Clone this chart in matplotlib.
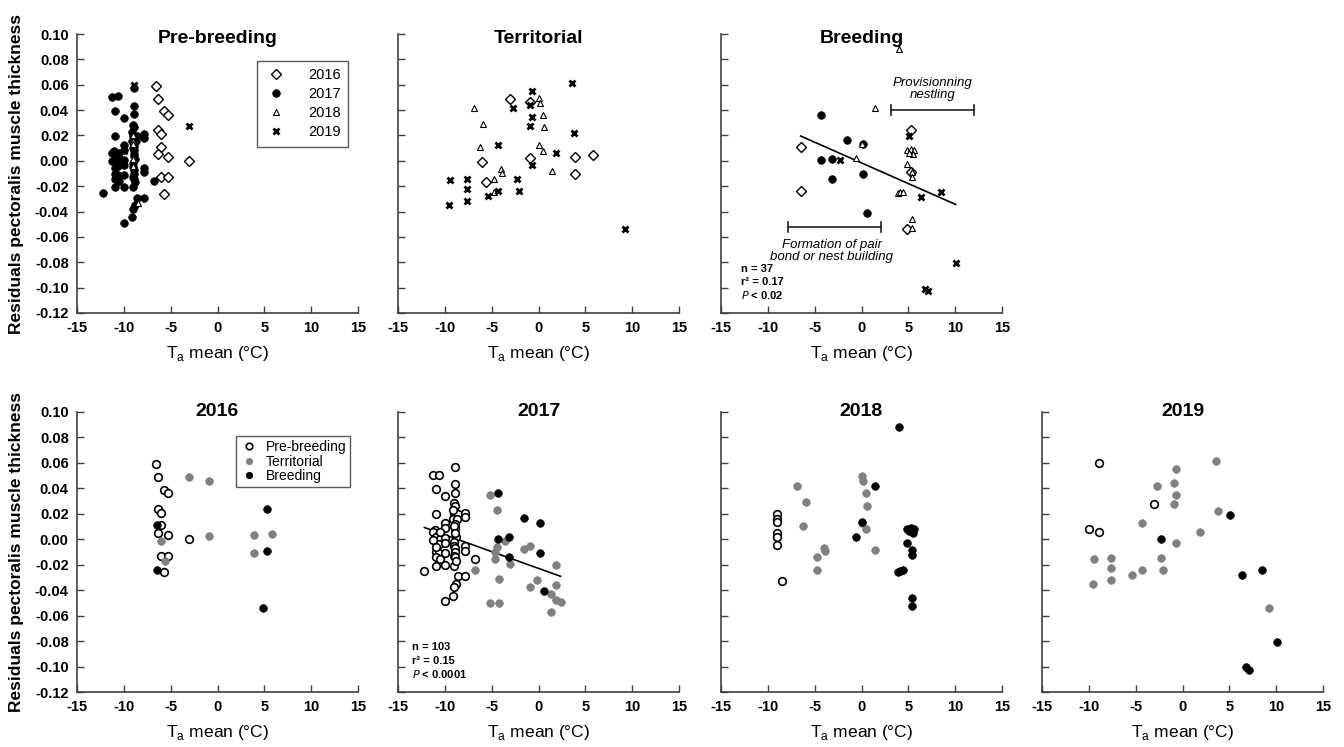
import numpy as np
import matplotlib
matplotlib.use("Agg")
import matplotlib.pyplot as plt

plt.rcParams["font.family"] = ["Liberation Sans", "DejaVu Sans"]
plt.rcParams["mathtext.fontset"] = "custom"
plt.rcParams["mathtext.rm"] = "Liberation Sans"
plt.rcParams["axes.unicode_minus"] = False

# --- mean air temperature (x) and residual muscle thickness (y), by year and phase ---
pre16_x = [-6.6, -6.3, -5.7, -5.3, -6.3, -6.0, -6.0, -6.35, -5.3, -3.0, -6.0, -5.3, -5.7]
pre16_y = [0.059, 0.049, 0.039, 0.036, 0.024, 0.021, 0.011, 0.005, 0.003, 0.000, -0.013, -0.013, -0.026]
ter16_x = [-3.0, -0.95, -0.95, 3.9, 5.85, 3.9, -6.0, -5.65]
ter16_y = [0.049, 0.046, 0.0025, 0.003, 0.0045, -0.0105, -0.0012, -0.017]
bre16_x = [-6.5, -6.5, 5.25, 5.25, 4.85]
bre16_y = [0.011, -0.024, 0.024, -0.009, -0.054]

pre17_x = [-8.87, -11.26, -10.65, -8.87, -10.90, -10.01, -8.87, -9.05, -8.87, -9.05,
           -8.62, -7.80, -7.80, -10.90, -9.16, -8.69, -10.01, -8.87, -10.01, -8.87,
           -11.01, -11.26, -10.65, -10.90, -10.47, -10.01, -8.76, -9.05, -10.65, -9.05,
           -8.87, -7.80, -7.80, -10.90, -10.58, -10.01, -8.87, -9.05, -10.90, -10.47,
           -8.87, -6.73, -10.90, -10.01, -9.05, -12.18, -8.62, -7.80, -8.76, -9.05,
           -10.01, -9.12, -9.05, -8.87, -10.47, -11.26, -10.90, -9.16, -8.76, -10.01]
pre17_y = [0.0571, 0.0503, 0.0508, 0.0433, 0.0393, 0.0341, 0.0367, 0.0284, 0.0263, 0.0197,
           0.0197, 0.0210, 0.0176, 0.0197, 0.0158, 0.0158, 0.0127, 0.0119, 0.0088, 0.0088,
           0.0075, 0.0059, 0.0041, 0.0014, 0.0001, 0.0007, 0.0014, -0.0020, -0.0038, -0.0051,
           -0.0072, -0.0056, -0.0090, -0.0103, -0.0109, -0.0109, -0.0103, -0.0129, -0.0142, -0.0156,
           -0.0142, -0.0156, -0.0208, -0.0203, -0.0208, -0.0250, -0.0292, -0.0292, -0.0352, -0.0378,
           -0.0488, -0.0443, 0.0105, 0.0050, 0.0059, -0.0005, -0.0060, 0.0230, -0.0170, -0.0030]
ter17_x = [-5.13, -4.42, -3.53, -4.42, -1.57, -0.93, -4.67, -4.67, -3.06, -6.8, -4.24,
           -0.14, -0.93, 1.82, 1.82, 1.35, 1.82, 2.35, -5.13, -4.24, 1.35]
ter17_y = [0.0346, 0.0231, -0.0012, -0.0064, -0.0077, -0.0051, -0.0103, -0.0156, -0.0195, -0.0242, -0.0312,
           -0.0317, -0.0378, -0.0203, -0.036, -0.0431, -0.0475, -0.0495, -0.0501, -0.0501, -0.0569]
bre17_x = [-4.3, -1.6, 0.2, -4.3, -3.15, -3.15, 0.2, 0.55]
bre17_y = [0.0365, 0.0165, 0.013, 0.0003, 0.0014, -0.0143, -0.0107, -0.0409]

pre18_x = [-9.0, -9.0, -9.0, -9.0, -9.0, -9.0, -8.5]
pre18_y = [0.020, 0.0157, 0.0136, 0.0052, 0.0018, -0.0042, -0.033]
ter18_x = [-6.9, -5.9, -6.2, 0.05, 0.15, 0.5, 0.55, 0.0, 0.45, -4.0, -3.95, -4.7, -4.7, 1.45]
ter18_y = [0.042, 0.029, 0.0108, 0.0495, 0.0458, 0.036, 0.0264, 0.0125, 0.0078, -0.0067, -0.0096,
           -0.0143, -0.0243, -0.0081]
bre18_x = [4.0, 1.4, 0.1, -0.6, 4.9, 5.25, 5.65, 5.45, 5.1, 4.85, 5.4, 5.4, 3.85, 4.15, 4.45, 5.35, 5.35]
bre18_y = [0.0883, 0.0417, 0.0136, 0.002, 0.0084, 0.0092, 0.0084, 0.005, 0.0065, -0.0026, -0.0085,
           -0.0126, -0.0255, -0.0248, -0.0243, -0.0458, -0.0527]

pre19_x = [-8.9, -3.05, -10.0, -8.9]
pre19_y = [0.0597, 0.0276, 0.008, 0.0055]
ter19_x = [3.62, -0.72, -2.75, -0.88, -0.72, -0.86, 3.84, -4.34, 1.88, -0.74, -9.47, -7.67, -2.25,
           -7.67, -4.32, -2.11, -5.44, -7.67, -9.51, 9.28]
ter19_y = [0.0617, 0.0551, 0.0416, 0.044, 0.0348, 0.0275, 0.0222, 0.0126, 0.006, -0.0033, -0.0152,
           -0.0144, -0.0144, -0.0223, -0.0239, -0.0239, -0.0281, -0.032, -0.0351, -0.054]
bre19_x = [5.08, -2.33, 6.35, 8.5, 10.05, 6.74, 7.15]
bre19_y = [0.0192, 0.0005, -0.0283, -0.0245, -0.0809, -0.1007, -0.1029]

years = [2016, 2017, 2018, 2019]
phases = ["Pre-breeding", "Territorial", "Breeding"]

data = {
    (2016, "Pre-breeding"): (pre16_x, pre16_y),
    (2016, "Territorial"): (ter16_x, ter16_y),
    (2016, "Breeding"): (bre16_x, bre16_y),
    (2017, "Pre-breeding"): (pre17_x, pre17_y),
    (2017, "Territorial"): (ter17_x, ter17_y),
    (2017, "Breeding"): (bre17_x, bre17_y),
    (2018, "Pre-breeding"): (pre18_x, pre18_y),
    (2018, "Territorial"): (ter18_x, ter18_y),
    (2018, "Breeding"): (bre18_x, bre18_y),
    (2019, "Pre-breeding"): (pre19_x, pre19_y),
    (2019, "Territorial"): (ter19_x, ter19_y),
    (2019, "Breeding"): (bre19_x, bre19_y),
}

# years drawn in each phase panel
phase_years = {
    "Pre-breeding": [2016, 2017, 2018, 2019],
    "Territorial": [2016, 2018, 2019],
    "Breeding": [2016, 2017, 2018, 2019],
}

year_style = {
    2016: dict(marker="D", ms=5, mfc="white", mec="black", mew=1.0),
    2017: dict(marker="o", ms=5.5, mfc="black", mec="black", mew=0.5),
    2018: dict(marker="^", ms=5, mfc="white", mec="black", mew=0.8),
    2019: dict(marker="x", ms=5, mec="black", mew=2.0),
}
phase_style = {
    "Pre-breeding": dict(marker="o", ms=5.5, mfc="white", mec="black", mew=1.2),
    "Territorial": dict(marker="o", ms=5.5, mfc="#808080", mec="#808080", mew=0.5),
    "Breeding": dict(marker="o", ms=5.5, mfc="black", mec="black", mew=0.5),
}

fig = plt.figure(figsize=(13.44, 7.47), dpi=100)
W, H = 1344, 747
lefts = [77, 398, 721, 1042]
aw = 281


def make_ax(col, top, bottom, ylabels):
    ax = fig.add_axes([lefts[col] / W, 1 - bottom / H, aw / W, (bottom - top) / H])
    ax.set_xlim(-15, 15)
    ax.set_ylim(-0.12, 0.10)
    ax.set_xticks(np.arange(-15, 16, 5))
    ax.set_yticks(np.arange(-0.12, 0.101, 0.02))
    ax.yaxis.set_major_formatter(matplotlib.ticker.FormatStrFormatter("%.2f"))
    for s in ["top", "right"]:
        ax.spines[s].set_visible(False)
    for s in ["left", "bottom"]:
        ax.spines[s].set_color("#404040")
        ax.spines[s].set_linewidth(1.2)
    ax.tick_params(direction="in", length=5, width=1.0, color="#404040",
                   labelsize=10.5, pad=6)
    for lab in ax.get_xticklabels() + ax.get_yticklabels():
        lab.set_fontweight("bold")
    if not ylabels:
        ax.tick_params(labelleft=False)
    ax.set_xlabel(r"T$_{\mathrm{a}}$ mean (°C)", fontsize=12.5, labelpad=6)
    return ax


def add_fit(ax, xs, ys):
    xs = np.asarray(xs)
    ys = np.asarray(ys)
    slope, icpt = np.polyfit(xs, ys, 1)
    xx = np.array([xs.min(), xs.max()])
    ax.plot(xx, slope * xx + icpt, color="black", lw=1.2, zorder=1)


def stats(ax, x, n, r2, p):
    ax.text(x, -0.085, f"n = {n}", fontsize=8, fontweight="bold", va="center")
    ax.text(x, -0.0955, f"r² = {r2}", fontsize=8, fontweight="bold", va="center")
    ax.text(x, -0.106, r"$\bf{\it{P}}$" + f" < {p}", fontsize=8, fontweight="bold", va="center")


# top row: one panel per phase, markers by year
for col, phase in enumerate(phases):
    ax = make_ax(col, 34, 313, col == 0)
    ax.text(0.5, 0.985, phase, transform=ax.transAxes, ha="center", va="center",
            fontsize=14, fontweight="bold")
    for yr in phase_years[phase]:
        x, y = data[(yr, phase)]
        ax.plot(x, y, ls="none", label=str(yr), zorder=3, **year_style[yr])
    if phase == "Pre-breeding":
        leg = ax.legend(loc="upper right", bbox_to_anchor=(0.99, 0.93), fontsize=10.5,
                        frameon=True, fancybox=False, edgecolor="#303030",
                        handletextpad=1.4, labelspacing=0.35, borderpad=0.5,
                        handlelength=1.6)
        leg.get_frame().set_linewidth(1.0)
    if phase == "Breeding":
        bx, by = [], []
        for yr in years:
            x, y = data[(yr, phase)]
            bx += x
            by += y
        add_fit(ax, bx, by)
        stats(ax, -12.9, len(bx), "0.17", "0.02")
        # phase brackets
        ax.plot([3.2, 12.0], [0.0403, 0.0403], color="#202020", lw=1.2)
        for xe in [3.2, 12.0]:
            ax.plot([xe, xe], [0.0363, 0.0443], color="#202020", lw=1.2)
        ax.text(7.6, 0.0565, "Provisionning\nnestling", ha="center", va="center",
                fontsize=9.5, style="italic", linespacing=1.05)
        ax.plot([-7.9, 2.1], [-0.0524, -0.0524], color="#202020", lw=1.2)
        for xe in [-7.9, 2.1]:
            ax.plot([xe, xe], [-0.0564, -0.0484], color="#202020", lw=1.2)
        ax.text(-3.2, -0.071, "Formation of pair\nbond or nest building", ha="center",
                va="center", fontsize=9.5, style="italic", linespacing=1.05)

# bottom row: one panel per year, colours by phase
for col, yr in enumerate(years):
    ax = make_ax(col, 412, 692, col == 0)
    ax.text(0.5, 1.0, str(yr), transform=ax.transAxes, ha="center", va="center",
            fontsize=14, fontweight="bold")
    for phase in phases:
        x, y = data[(yr, phase)]
        ax.plot(x, y, ls="none", label=phase, zorder=3, **phase_style[phase])
    if yr == 2016:
        leg = ax.legend(loc="upper right", bbox_to_anchor=(0.997, 0.94), fontsize=10,
                        frameon=True, fancybox=False, edgecolor="#303030",
                        handletextpad=0.6, labelspacing=0.05, borderpad=0.3,
                        handlelength=1.2, markerscale=0.85)
        leg.get_frame().set_linewidth(1.0)
    if yr == 2017:
        yx, yy = [], []
        for phase in phases:
            x, y = data[(yr, phase)]
            yx += x
            yy += y
        add_fit(ax, yx, yy)
        stats(ax, -13.5, 103, "0.15", "0.0001")

for top, bottom in [(34, 313), (412, 692)]:
    fig.text(0.012, 1 - (top + bottom) / 2 / H, "Residuals pectoralis muscle thickness",
             rotation=90, ha="center", va="center", fontsize=12.5, fontweight="bold")

fig.savefig("out.png", dpi=100)
